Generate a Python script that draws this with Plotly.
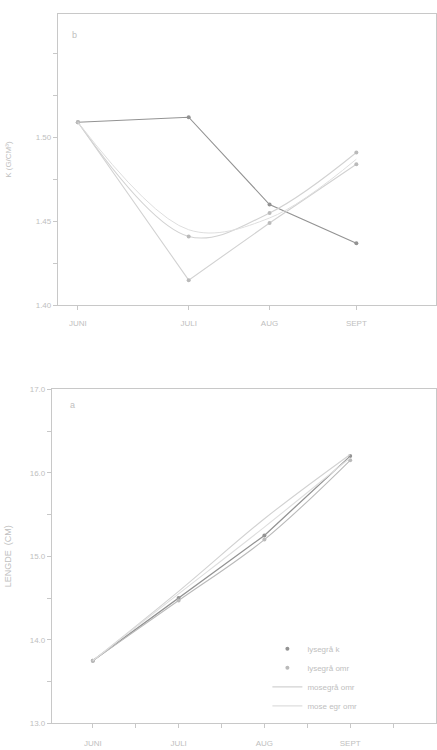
import plotly.graph_objects as go

# ---------------- data ----------------
months = ["JUNI", "JULI", "AUG", "SEPT"]

# top panel (b): condition factor
top_days = [0, 37, 64, 93]
k_s1 = [1.509, 1.512, 1.460, 1.437]
k_s2 = [1.509, 1.415, 1.449, 1.484]
k_s3 = [1.509, 1.441, 1.455, 1.491]
k_s4 = [1.509, 1.445, 1.452, 1.487]

# bottom panel (a): length (cm)
bot_x = [0, 1, 2, 3]
len_s1 = [13.75, 14.50, 15.25, 16.20]
len_s2 = [13.75, 14.47, 15.20, 16.15]
len_s3 = [13.75, 14.58, 15.45, 16.22]
len_s4 = [13.75, 14.55, 15.35, 16.18]

names = ["lysegrå k", "lysegrå omr", "mosegrå omr", "mose egr omr"]

# ---------------- style ----------------
C1, C2, C3, C4 = "#939393", "#bababa", "#d2d2d2", "#dedede"
AX = "#c8c8c8"
TXT = "#c0c0c0"
FONT = "Liberation Sans"

W, H = 437, 750

def px_x(p):
    return p / W

def px_y(p):
    return 1 - p / H

fig = go.Figure()

# top traces
fig.add_trace(go.Scatter(x=top_days, y=k_s1, mode="lines+markers", xaxis="x", yaxis="y",
                         line=dict(color=C1, width=1.1), marker=dict(size=4, color=C1),
                         showlegend=False))
fig.add_trace(go.Scatter(x=top_days, y=k_s2, mode="lines+markers", xaxis="x", yaxis="y",
                         line=dict(color=C3, width=1.1), marker=dict(size=4, color=C2),
                         showlegend=False))
fig.add_trace(go.Scatter(x=top_days, y=k_s3, mode="lines+markers", xaxis="x", yaxis="y",
                         line=dict(color=C3, width=1.1, shape="spline"), marker=dict(size=4, color=C2),
                         showlegend=False))
fig.add_trace(go.Scatter(x=top_days, y=k_s4, mode="lines", xaxis="x", yaxis="y",
                         line=dict(color=C4, width=1.0, shape="spline"),
                         showlegend=False))

# bottom traces
fig.add_trace(go.Scatter(x=bot_x, y=len_s1, mode="lines+markers", xaxis="x2", yaxis="y2",
                         line=dict(color=C1, width=1.3), marker=dict(size=4, color=C1),
                         showlegend=False))
fig.add_trace(go.Scatter(x=bot_x, y=len_s2, mode="lines+markers", xaxis="x2", yaxis="y2",
                         line=dict(color=C2, width=1.1, shape="spline"), marker=dict(size=4, color=C2),
                         showlegend=False))
fig.add_trace(go.Scatter(x=bot_x, y=len_s3, mode="lines", xaxis="x2", yaxis="y2",
                         line=dict(color=C3, width=1.1, shape="spline"),
                         showlegend=False))
fig.add_trace(go.Scatter(x=bot_x, y=len_s4, mode="lines", xaxis="x2", yaxis="y2",
                         line=dict(color=C4, width=1.1, shape="spline"),
                         showlegend=False))

# legend entries (bottom panel)
fig.add_trace(go.Scatter(x=[None], y=[None], mode="markers", name=names[0], xaxis="x2", yaxis="y2",
                         marker=dict(size=4, color=C1)))
fig.add_trace(go.Scatter(x=[None], y=[None], mode="markers", name=names[1], xaxis="x2", yaxis="y2",
                         marker=dict(size=4, color=C2)))
fig.add_trace(go.Scatter(x=[None], y=[None], mode="lines", name=names[2], xaxis="x2", yaxis="y2",
                         line=dict(color=C3, width=1.1)))
fig.add_trace(go.Scatter(x=[None], y=[None], mode="lines", name=names[3], xaxis="x2", yaxis="y2",
                         line=dict(color=C4, width=1.1)))

axis_common = dict(showgrid=False, zeroline=False, showline=True, linecolor=AX, linewidth=1,
                   ticks="outside", ticklen=4, tickcolor=AX, mirror=True,
                   tickfont=dict(family=FONT, size=8, color=TXT))

top_yvals = [1.40, 1.425, 1.45, 1.475, 1.50, 1.525, 1.55]
top_ytext = ["1.40", "", "1.45", "", "1.50", "", ""]
bot_yvals = [13.0, 13.5, 14.0, 14.5, 15.0, 15.5, 16.0, 16.5, 17.0]
bot_ytext = ["13.0", "", "14.0", "", "15.0", "", "16.0", "", "17.0"]
bot_xvals = [0, 0.5, 1, 1.5, 2, 2.5, 3, 3.5]
bot_xtext = [months[0], "", months[1], "", months[2], "", months[3], ""]

fig.update_layout(
    width=W, height=H,
    margin=dict(l=0, r=0, t=0, b=0),
    paper_bgcolor="white", plot_bgcolor="white",
    font=dict(family=FONT, color=TXT),
    xaxis=dict(domain=[px_x(58), 1.0], range=[-6.7, 119.6], anchor="y",
               tickvals=top_days, ticktext=months, ticklabelstandoff=6, **axis_common),
    yaxis=dict(domain=[px_y(305), px_y(10)], range=[1.40, 1.5735], anchor="x",
               tickvals=top_yvals, ticktext=top_ytext,
               title=dict(text="K (G/CM³)", font=dict(family=FONT, size=8, color=TXT), standoff=22),
               **axis_common),
    xaxis2=dict(domain=[px_x(52), 1.0], range=[-0.477, 4.0], anchor="y2",
                tickvals=bot_xvals, ticktext=bot_xtext, ticklabelstandoff=8, **axis_common),
    yaxis2=dict(domain=[px_y(728), px_y(390)], range=[13.0, 17.0], anchor="x2",
                tickvals=bot_yvals, ticktext=bot_ytext,
                title=dict(text="LENGDE  (CM)", font=dict(family=FONT, size=9, color=TXT), standoff=16),
                **axis_common),
    legend=dict(x=px_x(268), y=px_y(638), xanchor="left", yanchor="top",
                bgcolor="rgba(0,0,0,0)", font=dict(family=FONT, size=8, color=TXT),
                itemwidth=30, tracegroupgap=0),
    annotations=[
        dict(text="b", x=px_x(70), y=px_y(24), xref="paper", yref="paper", showarrow=False,
             font=dict(family=FONT, size=9, color=TXT)),
        dict(text="a", x=px_x(68), y=px_y(406), xref="paper", yref="paper", showarrow=False,
             font=dict(family=FONT, size=9, color=TXT)),
    ],
)

fig.write_html("out.html")
